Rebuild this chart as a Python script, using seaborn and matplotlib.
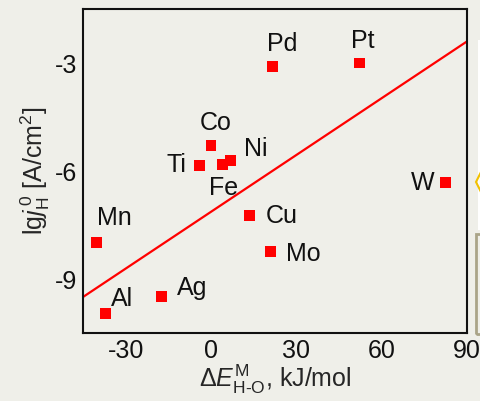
import matplotlib
matplotlib.use("Agg")
import matplotlib.pyplot as plt
import seaborn as sns
import pandas as pd
from matplotlib.patches import Rectangle, Polygon

metals = ["Pd", "Pt", "Co", "Ni", "Fe", "Ti", "W", "Cu", "Mo", "Mn", "Ag", "Al"]
dE = [21.7, 52.3, 0.0, 6.8, 4.1, -4.1, 82.4, 13.5, 20.9, -40.1, -17.3, -37.0]
lgj = [-3.09, -3.0, -5.29, -5.71, -5.81, -5.85, -6.31, -7.24, -8.24, -7.98, -9.48, -9.97]
fit_x = [-45, 90]
fit_y = [-9.5, -2.4]
xticks = [-30, 0, 30, 60, 90]
yticks = [-3, -6, -9]

# label offsets (data units) relative to each point
lab_dx = [3.2, 1.1, 1.8, 8.8, 0.25, -8.2, -8.1, 11.4, 11.7, 6.3, 10.8, 5.6]
lab_dy = [0.67, 0.67, 0.67, 0.37, -0.60, 0.075, 0.02, 0.05, -0.02, 0.74, 0.28, 0.47]

sns.set_style("white")
plt.rcParams["font.family"] = ["Liberation Sans", "DejaVu Sans"]
plt.rcParams["mathtext.fontset"] = "custom"
plt.rcParams["mathtext.rm"] = "Liberation Sans"
plt.rcParams["mathtext.it"] = "Liberation Sans:italic"
plt.rcParams["axes.unicode_minus"] = False

bg = "#efefe9"
fig = plt.figure(figsize=(4.81, 4.01), dpi=100, facecolor=bg)
ax = fig.add_axes([83/481, 1-333/401, (467-83)/481, (333-9)/401])
ax.set_facecolor(bg)

df = pd.DataFrame({"dE": dE, "lgj": lgj, "metal": metals})
sns.lineplot(x=fit_x, y=fit_y, ax=ax, color="#ff0000", linewidth=1.6)
sns.scatterplot(data=df, x="dE", y="lgj", ax=ax, marker="s", s=62,
                color="#ff0000", edgecolor="none", zorder=3)

for m, x, y, dx, dy in zip(metals, dE, lgj, lab_dx, lab_dy):
    ax.text(x + dx, y + dy - 0.25, m, fontsize=18, ha="center", va="baseline",
            color="#111111")

ax.set_xlim(-45, 90)
ax.set_ylim(-10.5, -1.5)
ax.set_xticks(xticks)
ax.set_yticks(yticks)
ax.set_xticks([-15, 15, 45, 75], minor=True)
ax.set_yticks([-4.5, -7.5], minor=True)
ax.tick_params(axis="both", which="major", direction="in", length=5, width=1.3,
               labelsize=18, colors="#111111", pad=4)
ax.tick_params(axis="both", which="minor", direction="in", length=3, width=1.3)
ax.tick_params(top=False, right=False)
for sp in ax.spines.values():
    sp.set_color("#111111")
    sp.set_linewidth(1.5)
    sp.set_visible(True)

ax.set_xlabel("Δ" + r"$\mathit{E}^{\rm M}_{\rm H\text{-}O}$, kJ/mol", fontsize=18, labelpad=0)
ax.set_ylabel(r"lg$\mathit{j}^{\,0}_{\rm H}$ [A/cm$^2$]", fontsize=18, labelpad=2)

# partial slide decorations at the right edge
fig.patches.append(Rectangle((478/481, 1-230/401), 3/481, 190/401, transform=fig.transFigure,
                             facecolor="white", edgecolor="none"))
fig.patches.append(Polygon([[476/481, 1-182/401], [481/481, 1-172/401], [481/481, 1-192/401]],
                           closed=True, transform=fig.transFigure, facecolor="none",
                           edgecolor="#f2c100", linewidth=1.5))
fig.patches.append(Rectangle((476/481, 1-334/401), 8/481, 100/401, transform=fig.transFigure,
                             facecolor="none", edgecolor="#aaa488", linewidth=2))

fig.savefig("out.png", dpi=100, facecolor=bg)
